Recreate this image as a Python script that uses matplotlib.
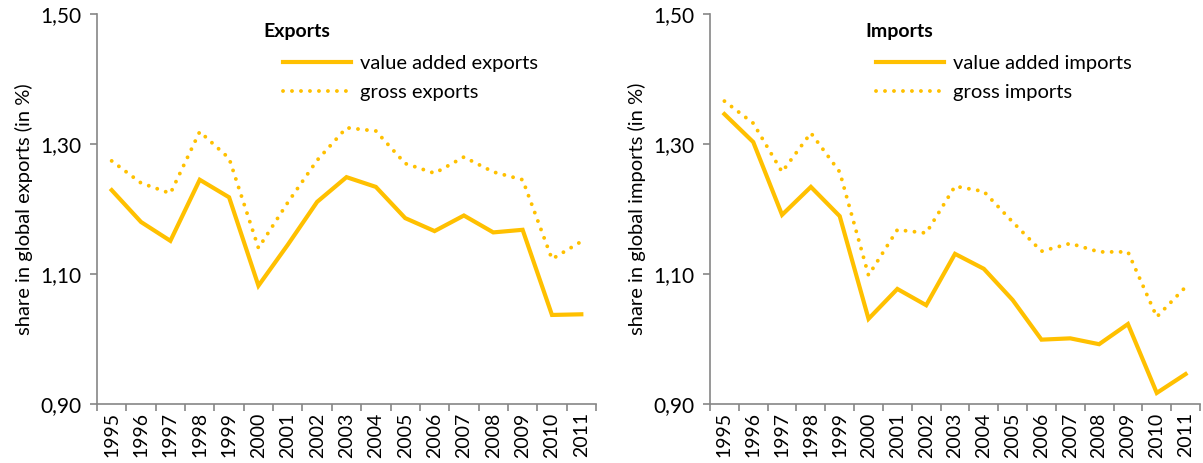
import numpy as np
import matplotlib
matplotlib.use('Agg')
import matplotlib.pyplot as plt

# data
years = [str(y) for y in range(1995, 2012)]
va_exports = [1.229, 1.180, 1.151, 1.245, 1.218, 1.082, 1.145, 1.211, 1.249, 1.234,
              1.186, 1.166, 1.190, 1.164, 1.168, 1.037, 1.038]
gross_exports = [1.274, 1.240, 1.224, 1.319, 1.278, 1.140, 1.210, 1.275, 1.325, 1.320,
                 1.270, 1.255, 1.280, 1.257, 1.245, 1.123, 1.150]
va_imports = [1.346, 1.303, 1.191, 1.234, 1.189, 1.031, 1.077, 1.052, 1.131, 1.108,
              1.060, 0.999, 1.001, 0.992, 1.023, 0.917, 0.946]
gross_imports = [1.366, 1.332, 1.257, 1.317, 1.257, 1.098, 1.168, 1.163, 1.235, 1.227,
                 1.180, 1.135, 1.147, 1.134, 1.134, 1.034, 1.080]
yticks = [0.90, 1.10, 1.30, 1.50]

plt.rcParams['font.family'] = ['Lato', 'DejaVu Sans']
gold = '#FFC000'
spine_col = '#868686'

fig = plt.figure(figsize=(12.03, 4.63), dpi=100)
W, H = 1203, 463

def make_panel(left_px, right_px, va, gross, title, lab_va, lab_gross, ylabel, leg_x, title_x):
    ax = fig.add_axes([left_px / W, 1 - 404 / H, (right_px - left_px) / W, (404 - 14) / H])
    x = np.arange(len(years))
    ax.plot(x, va, color=gold, lw=3.0, solid_joinstyle='miter', label=lab_va)
    ax.plot(x, gross, color=gold, lw=2.8, linestyle=(0, (0.01, 2.3)),
            dash_capstyle='round', label=lab_gross)
    ax.set_xlim(-0.5, len(years) - 0.5)
    ax.set_ylim(0.90, 1.50)
    ax.set_yticks(yticks)
    ax.set_yticklabels([f'{v:.2f}'.replace('.', ',') for v in yticks], fontsize=15)
    ax.set_xticks(x)
    ax.set_xticklabels(years, rotation=90, fontsize=14)
    ax.set_xticks(np.arange(-0.5, len(years)), minor=True)
    ax.tick_params(axis='x', which='major', length=0, pad=6)
    ax.tick_params(axis='x', which='minor', length=5, color=spine_col, width=1.2)
    ax.tick_params(axis='y', length=5, color=spine_col, width=1.2, pad=6)
    for s in ['top', 'right']:
        ax.spines[s].set_visible(False)
    for s in ['left', 'bottom']:
        ax.spines[s].set_color(spine_col)
        ax.spines[s].set_linewidth(1.2)
    ax.set_ylabel(ylabel, fontsize=14.5)
    ax.yaxis.set_label_coords(-64 / (right_px - left_px), 0.5)
    fig.text(title_x / W, 1 - 31 / H, title, fontsize=14, fontweight='bold', va='center')
    ax.legend(loc='upper left', bbox_to_anchor=(leg_x / W, 1 - 55 / H),
              bbox_transform=fig.transFigure, frameon=False, fontsize=14.5,
              handlelength=3.4, handletextpad=0.4, labelspacing=0.6,
              borderpad=0, borderaxespad=0)
    return ax

make_panel(97, 596, va_exports, gross_exports, 'Exports', 'value added exports',
           'gross exports', 'share in global exports (in %)', 283, 263)
make_panel(710, 1200, va_imports, gross_imports, 'Imports', 'value added imports',
           'gross imports', 'share in global imports (in %)', 876, 865)

fig.savefig('out.png', dpi=100)
